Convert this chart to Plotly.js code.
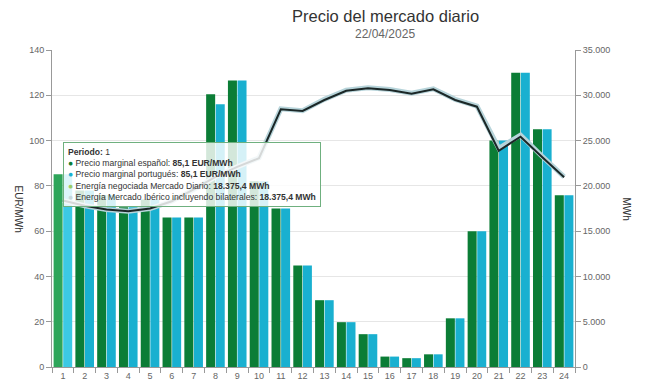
<!DOCTYPE html>
<html>
<head>
<meta charset="utf-8">
<script src="https://cdn.plot.ly/plotly-3.0.1.min.js"></script>
<style>html,body{margin:0;padding:0;background:#fff}#chart{width:650px;height:390px}</style>
</head>
<body>
<div id="chart"></div>
<script>
const hours = ['1','2','3','4','5','6','7','8','9','10','11','12','13','14','15','16','17','18','19','20','21','22','23','24'];
const precioES = [85.1,78,76,70.5,74,66,66,120.5,126.5,82,70,44.8,29.5,19.8,14.5,4.6,3.9,5.6,21.5,60,100,130,105,75.8];
const precioPT = [85.1,78,76,70.5,74,66,66,116,126.5,82,70,44.8,29.5,19.8,14.5,4.6,3.9,5.6,21.5,60,100,130,105,75.8];
const energiaMD = [18375.4,17800,17400,17200,17500,18300,19600,21000,22100,23050,28450,28270,29480,30500,30770,30580,30180,30660,29480,28740,23880,25430,23150,20950];
const energiaIB = [18375.4,17800,17400,17200,17500,18300,19600,21000,22100,23100,28500,28300,29550,30560,30830,30640,30240,30720,29550,28800,24150,25600,23250,21000];
const hoverIdx = 0;

const greenBase = '#0b7d36', greenHi = '#2ea55a';
const cyanBase = '#19b0d0', cyanHi = '#3cc9e4';
const gCols = hours.map((h,i)=> i===hoverIdx ? greenHi : greenBase);
const cCols = hours.map((h,i)=> i===hoverIdx ? cyanHi : cyanBase);

const traces = [
  {type:'bar', x:hours, y:precioES, name:'Precio marginal español', marker:{color:gCols}, yaxis:'y', hoverinfo:'skip'},
  {type:'bar', x:hours, y:precioPT, name:'Precio marginal portugués', marker:{color:cCols}, yaxis:'y', hoverinfo:'skip'},
  {type:'scatter', mode:'lines', x:hours, y:energiaIB, name:'Energía Mercado Ibérico incluyendo bilaterales', line:{color:'#b7d4da', width:5}, yaxis:'y2', hoverinfo:'skip'},
  {type:'scatter', mode:'lines', x:hours, y:energiaMD, name:'Energía negociada Mercado Diario', line:{color:'#1b2727', width:2}, yaxis:'y2', hoverinfo:'skip'}
];

const tip = '<b>Periodo:</b> 1<br>' +
 '<span style="color:#0b7d36">●</span> Precio marginal español: <b>85,1 EUR/MWh</b><br>' +
 '<span style="color:#19b0d0">●</span> Precio marginal portugués: <b>85,1 EUR/MWh</b><br>' +
 '<span style="color:#9ccc65">●</span> Energía negociada Mercado Diario: <b>18.375,4 MWh</b><br>' +
 '<span style="color:#c8d8dc">●</span> Energía Mercado Ibérico incluyendo bilaterales: <b>18.375,4 MWh</b>';

const layout = {
  width:650, height:390,
  margin:{l:52, r:75, t:50, b:23},
  paper_bgcolor:'#fff', plot_bgcolor:'#fff',
  separators:',.',
  showlegend:false,
  barmode:'group', bargap:0.12, bargroupgap:0.06,
  font:{family:'"Liberation Sans", Arial, sans-serif', color:'#666', size:9},
  xaxis:{type:'category', tickson:'boundaries', ticks:'outside', ticklen:5, tickcolor:'#999',
         showline:true, linecolor:'#999', showgrid:false, tickfont:{size:9, color:'#666'}, fixedrange:true},
  yaxis:{range:[0,140], dtick:20, ticks:'outside', ticklen:5, tickcolor:'#999', showline:true, linecolor:'#999',
         gridcolor:'#e6e6e6', zeroline:false, tickfont:{size:9, color:'#666'}},
  yaxis2:{range:[0,35000], dtick:5000, overlaying:'y', side:'right', tickformat:',d', ticks:'outside', ticklen:5,
          tickcolor:'#999', showline:true, linecolor:'#999', showgrid:false, zeroline:false, tickfont:{size:9, color:'#666'}},
  annotations:[
    {xref:'paper', yref:'paper', x:(385-52)/523, y:1+(50-16)/317, xanchor:'center', yanchor:'middle', showarrow:false,
     text:'Precio del mercado diario', font:{size:16.5, color:'#333'}},
    {xref:'paper', yref:'paper', x:(385-52)/523, y:1+(50-34)/317, xanchor:'center', yanchor:'middle', showarrow:false,
     text:'22/04/2025', font:{size:12, color:'#666'}},
    {xref:'paper', yref:'paper', x:-(52-18)/523, y:0.5, xanchor:'center', yanchor:'middle', showarrow:false,
     text:'EUR/MWh', textangle:90, font:{size:10, color:'#333'}},
    {xref:'paper', yref:'paper', x:1+(626-575)/523, y:0.5, xanchor:'center', yanchor:'middle', showarrow:false,
     text:'MWh', textangle:90, font:{size:10, color:'#333'}},
    {xref:'paper', yref:'paper', x:(63-52)/523, y:(367-142)/317, xanchor:'left', yanchor:'top', showarrow:false,
     text:tip, align:'left', bgcolor:'rgba(255,255,255,0.82)', bordercolor:'#6fb07f', borderwidth:1, borderpad:4,
     font:{size:8.6, color:'#333'}}
  ]
};
Plotly.newPlot('chart', traces, layout, {displayModeBar:false, staticPlot:true});
</script>
</body>
</html>
